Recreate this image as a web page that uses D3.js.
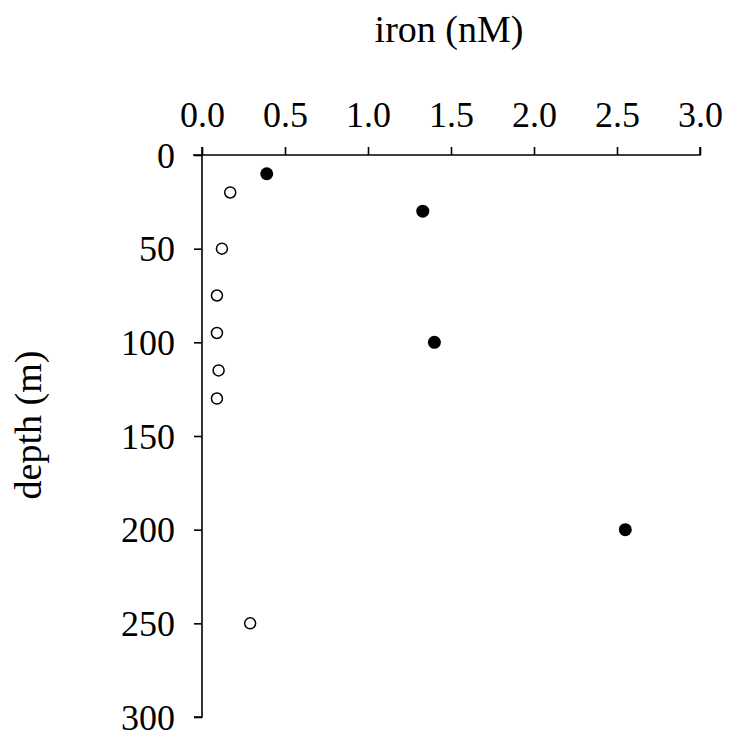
<!DOCTYPE html>
<meta charset="utf-8">
<style>
body { margin: 0; background: #fff; }
text { font-family: "Liberation Serif", "Times New Roman", serif; fill: #000; }
.axis path, .axis line { stroke: #000; stroke-width: 1.6px; }
.axis text { font-size: 36px; }
</style>
<body>
<div id="chart"></div>
<script src="https://d3js.org/d3.v7.min.js"></script>
<script>
// filled circles
var ironA = [0.39, 1.33, 1.40, 2.55];
var depthA = [10, 30, 100, 200];
// open circles
var ironB = [0.17, 0.12, 0.09, 0.09, 0.10, 0.09, 0.29];
var depthB = [20, 50, 75, 95, 115, 130, 250];
var xTicks = [0, 0.5, 1, 1.5, 2, 2.5, 3];
var yTicks = [0, 50, 100, 150, 200, 250, 300];

var margin = {left: 202, top: 155},
    width = 498,
    height = 562;

var x = d3.scaleLinear().domain([0, 3]).range([0, width]);
var y = d3.scaleLinear().domain([0, 300]).range([0, height]);

var svg = d3.select("#chart").append("svg")
    .attr("width", 731)
    .attr("height", 731)
  .append("g")
    .attr("transform", "translate(" + margin.left + "," + margin.top + ")");

// x axis along the top
var xAxis = svg.append("g")
    .attr("class", "axis")
    .call(d3.axisTop(x).tickValues(xTicks).tickFormat(d3.format(".1f")).tickSize(8).tickPadding(20));
xAxis.select(".domain").attr("d", "M-9,0H" + width + "V-8");

// y axis on the left
var yAxis = svg.append("g")
    .attr("class", "axis")
    .call(d3.axisLeft(y).tickValues(yTicks).tickSize(8).tickPadding(19));
yAxis.select(".domain").attr("d", "M0,-8V" + height + "H-8");
yAxis.selectAll(".tick text").attr("dy", "0.34em");

var dataA = ironA.map(function(v, i) { return {x: v, y: depthA[i]}; });
var dataB = ironB.map(function(v, i) { return {x: v, y: depthB[i]}; });

svg.selectAll(".ptB").data(dataB).enter().append("circle")
    .attr("cx", function(d) { return x(d.x); })
    .attr("cy", function(d) { return y(d.y); })
    .attr("r", 5.5)
    .attr("fill", "#fff")
    .attr("stroke", "#000")
    .attr("stroke-width", 1.5);

svg.selectAll(".ptA").data(dataA).enter().append("circle")
    .attr("cx", function(d) { return x(d.x); })
    .attr("cy", function(d) { return y(d.y); })
    .attr("r", 6.5)
    .attr("fill", "#000");

// titles
svg.append("text")
    .attr("x", 247)
    .attr("y", -113)
    .style("text-anchor", "middle")
    .style("font-size", "38px")
    .text("iron (nM)");

svg.append("text")
    .attr("transform", "rotate(-90)")
    .attr("x", -270)
    .attr("y", -161)
    .style("text-anchor", "middle")
    .style("font-size", "38px")
    .text("depth (m)");
</script>
</body>
